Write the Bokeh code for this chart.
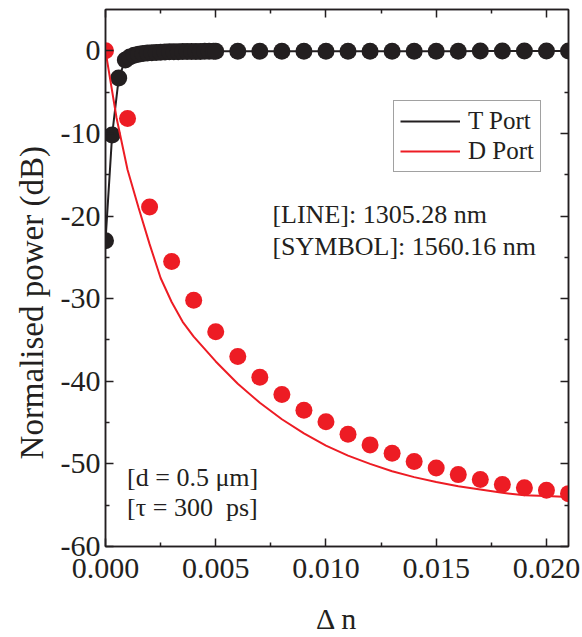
from bokeh.plotting import figure
from bokeh.models import (Range1d, FixedTicker, LinearAxis, Legend, LegendItem, Label,
                          CustomLabelingPolicy)
from bokeh.embed import file_html
from bokeh.resources import INLINE

# ---- data ----
t_x = [0.0, 0.0003, 0.0006, 0.0009, 0.0011, 0.0013, 0.0015, 0.0017, 0.0019, 0.0021,
       0.0023, 0.0025, 0.0027, 0.0029, 0.0031, 0.0033, 0.0035, 0.0037, 0.0039, 0.0041,
       0.0043, 0.0045, 0.0047, 0.0049, 0.005, 0.006, 0.007, 0.008, 0.009, 0.010,
       0.011, 0.012, 0.013, 0.014, 0.015, 0.016, 0.017, 0.018, 0.019, 0.020, 0.021]
t_y = [-23.0, -10.2, -3.3, -1.1, -0.75, -0.55, -0.42, -0.33, -0.27, -0.22,
       -0.19, -0.16, -0.14, -0.12, -0.11, -0.10, -0.09, -0.08, -0.08, -0.07,
       -0.07, -0.06, -0.06, -0.06, -0.06, -0.05, -0.05, -0.05, -0.05, -0.05,
       -0.04, -0.04, -0.04, -0.04, -0.04, -0.04, -0.03, -0.03, -0.03, -0.03, -0.03]

d_sym_x = [0.0, 0.001, 0.002, 0.003, 0.004, 0.005, 0.006, 0.007, 0.008, 0.009, 0.010,
           0.011, 0.012, 0.013, 0.014, 0.015, 0.016, 0.017, 0.018, 0.019, 0.020, 0.021]
d_sym_y = [0.0, -8.2, -18.9, -25.5, -30.2, -34.0, -37.0, -39.5, -41.6, -43.5, -44.9,
           -46.4, -47.7, -48.7, -49.7, -50.5, -51.3, -51.9, -52.5, -52.9, -53.2, -53.6]

d_line_x = [0.0, 0.0005, 0.001, 0.0015, 0.002, 0.0025, 0.003, 0.0035, 0.004, 0.005,
            0.006, 0.007, 0.008, 0.009, 0.010, 0.011, 0.012, 0.013, 0.014, 0.015,
            0.016, 0.017, 0.018, 0.019, 0.020, 0.021]
d_line_y = [0.0, -8.1, -14.4, -19.0, -23.4, -27.5, -30.4, -32.8, -34.6, -37.6,
            -40.3, -42.6, -44.6, -46.3, -47.8, -49.0, -50.0, -50.9, -51.6, -52.2,
            -52.7, -53.1, -53.5, -53.8, -53.9, -54.0]

x_ticks = [0.0, 0.005, 0.010, 0.015, 0.020]
x_tick_labels = ["0.000", "0.005", "0.010", "0.015", "0.020"]
x_minor = [0.0025, 0.0075, 0.0125, 0.0175]
y_ticks = [-60, -50, -40, -30, -20, -10, 0]
y_tick_labels = ["-60", "-50", "-40", "-30", "-20", "-10", "0"]
y_minor = [-55, -45, -35, -25, -15, -5]

x_title = "Δ n"
y_title = "Normalised power (dB)"

BLACK = "#231f20"
RED = "#ed1c24"
FONT = "Liberation Serif"

p = figure(width=582, height=637, output_backend="svg", toolbar_location=None,
           x_range=Range1d(0, 0.021), y_range=Range1d(-60, 5),
           min_border_left=105, min_border_right=14, min_border_top=9, min_border_bottom=89,
           x_axis_location=None, y_axis_location=None)
p.grid.visible = False
p.outline_line_color = BLACK
p.outline_line_width = 1.5
p.background_fill_color = "white"
p.border_fill_color = "white"

def style_axis(ax, labels=True, standoff=8):
    ax.axis_line_color = BLACK
    ax.axis_line_width = 1.5
    ax.major_tick_line_color = BLACK
    ax.minor_tick_line_color = BLACK
    ax.major_tick_line_width = 1.5
    ax.minor_tick_line_width = 1.5
    ax.major_tick_in = 8
    ax.major_tick_out = 0
    ax.minor_tick_in = 4
    ax.minor_tick_out = 0
    ax.major_label_text_font = FONT
    ax.major_label_text_color = BLACK
    if labels:
        ax.major_label_text_font_size = "30px"
        ax.major_label_standoff = standoff
    else:
        ax.major_label_text_font_size = "1px"
        ax.major_label_standoff = 0
        ax.major_label_policy = CustomLabelingPolicy(code="")

xt = FixedTicker(ticks=x_ticks, minor_ticks=x_minor)
yt = FixedTicker(ticks=y_ticks, minor_ticks=y_minor)

xb = LinearAxis(ticker=xt, axis_label=x_title)
style_axis(xb, standoff=12)
xb.major_label_overrides = {v: s for v, s in zip(x_ticks, x_tick_labels)}
xb.axis_label_text_font = FONT
xb.axis_label_text_font_size = "30px"
xb.axis_label_text_font_style = "normal"
xb.axis_label_text_color = BLACK
xb.axis_label_standoff = 21
p.add_layout(xb, "below")

yl = LinearAxis(ticker=yt, axis_label=y_title + "\u00a0" * 6)
style_axis(yl, standoff=5)
yl.major_label_overrides = {v: s for v, s in zip(y_ticks, y_tick_labels)}
yl.axis_label_text_font = FONT
yl.axis_label_text_font_size = "33px"
yl.axis_label_text_font_style = "normal"
yl.axis_label_text_color = BLACK
yl.axis_label_standoff = 8
p.add_layout(yl, "left")

xtop = LinearAxis(ticker=xt)
style_axis(xtop, labels=False)
p.add_layout(xtop, "above")
yr = LinearAxis(ticker=yt)
style_axis(yr, labels=False)
p.add_layout(yr, "right")

# ---- glyphs ----
t_line = p.line(t_x, t_y, line_color=BLACK, line_width=2)
p.scatter(t_x, t_y, size=17, fill_color=BLACK, line_color=None)
d_line = p.line(d_line_x, d_line_y, line_color=RED, line_width=2)
p.scatter(d_sym_x, d_sym_y, size=17, fill_color=RED, line_color=None)

legend = Legend(items=[LegendItem(label="T Port", renderers=[t_line]),
                       LegendItem(label="D Port", renderers=[d_line])],
                location=(288, 374))
legend.border_line_color = "#444444"
legend.border_line_width = 1
legend.background_fill_alpha = 1
legend.label_text_font = FONT
legend.label_text_font_size = "25px"
legend.label_text_color = BLACK
legend.glyph_width = 60
legend.glyph_height = 20
legend.label_standoff = 8
legend.padding = 6
legend.spacing = 2
legend.margin = 0
p.add_layout(legend)

def add_label(x, y, text):
    p.add_layout(Label(x=x, y=y, text=text, text_font=FONT, text_font_size="26px",
                       text_color=BLACK, text_baseline="alphabetic"))

add_label(0.00757, -19.8, "[LINE]: 1305.28 nm")
add_label(0.00757, -23.7, "[SYMBOL]: 1560.16 nm")
add_label(0.00098, -51.7, "[d = 0.5 μm]")
add_label(0.00098, -55.3, "[τ = 300 \u00a0ps]")

open("out.html", "w").write(file_html(p, INLINE))
